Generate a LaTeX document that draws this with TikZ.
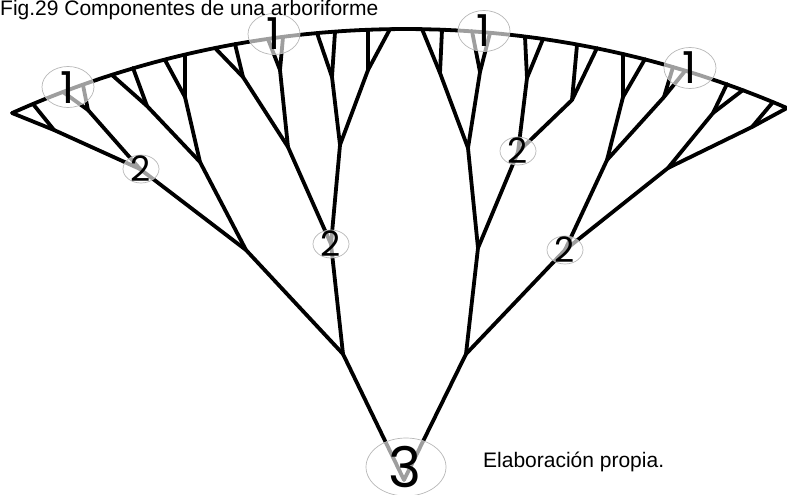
\documentclass[tikz,border=0pt]{standalone}
\usepackage{fontspec}
\setmainfont{Liberation Sans}
\newfontfamily\digitfont{Poppins}
\usetikzlibrary{shapes.geometric}
\begin{document}
\begin{tikzpicture}[x=1pt,y=-1pt,
  branch/.style={line width=3.8pt, line cap=round, line join=round, black},
  tag/.style={ellipse, fill=white, fill opacity=0.62, draw=black!28, draw opacity=1, line width=0.7pt, inner sep=0pt},
  onetag/.style={tag, minimum width=52pt, minimum height=41pt},
  twotag/.style={tag, minimum width=36pt, minimum height=28pt},
  threetag/.style={tag, minimum width=80pt, minimum height=58pt},
  onedigit/.style={inner sep=0pt, font=\digitfont\fontsize{44}{44}\selectfont},
  twodigit/.style={inner sep=0pt, font=\digitfont\fontsize{35}{35}\selectfont},
  threedigit/.style={inner sep=0pt, font=\digitfont\fontsize{56}{56}\selectfont},
  caption/.style={inner sep=0pt, anchor=base west, font=\fontsize{21}{25}\selectfont}]
\useasboundingbox (0,0) rectangle (787,495);

% leaves on the arc
\coordinate (l1) at (12,113);  \coordinate (l2) at (33,104);
\coordinate (l3) at (63,92);   \coordinate (l4) at (83,85);
\coordinate (l5) at (112,75);  \coordinate (l6) at (133,68);
\coordinate (l7) at (165,60);  \coordinate (l8) at (185,55);
\coordinate (l9) at (215,48);  \coordinate (l10) at (235,44);
\coordinate (l11) at (268,39); \coordinate (l12) at (283,37);
\coordinate (l13) at (317,33); \coordinate (l14) at (335,32);
\coordinate (l15) at (368,30); \coordinate (l16) at (390,29);
\coordinate (l17) at (422,29); \coordinate (l18) at (442,30);
\coordinate (l19) at (472,31); \coordinate (l20) at (490,33);
\coordinate (l21) at (525,37); \coordinate (l22) at (543,39);
\coordinate (l23) at (577,45); \coordinate (l24) at (597,48);
\coordinate (l25) at (623,54); \coordinate (l26) at (645,59);
\coordinate (l27) at (673,67); \coordinate (l28) at (685,71);
\coordinate (l29) at (727,84); \coordinate (l30) at (743,90);
\coordinate (l31) at (773,102);\coordinate (l32) at (787,108);
% first forks
\coordinate (A1) at (54,130);  \coordinate (A2) at (88,110);
\coordinate (B1) at (147,106); \coordinate (B2) at (185,97);
\coordinate (C1) at (243,77);  \coordinate (C2) at (280,70);
\coordinate (D1) at (332,77);  \coordinate (D2) at (368,70);
\coordinate (E1) at (440,73);  \coordinate (E2) at (480,72);
\coordinate (F1) at (527,78);  \coordinate (F2) at (572,100);
\coordinate (G1) at (623,97);  \coordinate (G2) at (664,97);
\coordinate (H1) at (713,113); \coordinate (H2) at (752,127);
% second forks
\coordinate (A) at (140,169);  \coordinate (B) at (200,162);
\coordinate (C) at (288,147);  \coordinate (D) at (340,145);
\coordinate (E) at (468,148);  \coordinate (F) at (518,152);
\coordinate (G) at (607,160);  \coordinate (H) at (668,168);
% third forks
\coordinate (LL) at (246,250); \coordinate (LR) at (331,244);
\coordinate (RL) at (478,248); \coordinate (RR) at (565,250);
% fourth forks and root
\coordinate (L) at (343,354);  \coordinate (R) at (466,354);
\coordinate (root) at (404,480);

% crown arc
\draw[branch] plot[domain=-24.12:23.38, samples=90]
  ({405.2+962.1*sin(\x)}, {991.1-962.1*cos(\x)});

% branches
\foreach \p/\c in {root/L, root/R, L/LL, L/LR, R/RL, R/RR,
  LL/A, LL/B, LR/C, LR/D, RL/E, RL/F, RR/G, RR/H,
  A/A1, A/A2, B/B1, B/B2, C/C1, C/C2, D/D1, D/D2,
  E/E1, E/E2, F/F1, F/F2, G/G1, G/G2, H/H1, H/H2,
  A1/l1, A1/l2, A2/l3, A2/l4, B1/l5, B1/l6, B2/l7, B2/l8,
  C1/l9, C1/l10, C2/l11, C2/l12, D1/l13, D1/l14, D2/l15, D2/l16,
  E1/l17, E1/l18, E2/l19, E2/l20, F1/l21, F1/l22, F2/l23, F2/l24,
  G1/l25, G1/l26, G2/l27, G2/l28, H1/l29, H1/l30, H2/l31, H2/l32}
  \draw[branch] (\p) -- (\c);

% level tags
\node[onetag] (t1a) at (68,87) {};
\node[onetag] (t1b) at (274,34) {};
\node[onetag] (t1c) at (484,31) {};
\node[onetag] (t1d) at (690,68) {};
\node[twotag] (t2a) at (141,169) {};
\node[twotag] (t2b) at (331,244) {};
\node[twotag] (t2c) at (518,151) {};
\node[twotag] (t2d) at (565,250) {};
\node[threetag] (t3) at (406,467) {};

\node[onedigit] (d1a) at (68,88) {1};
\node[onedigit] (d1b) at (t1b) {1};
\node[onedigit] (d1c) at (t1c) {1};
\node[onedigit] (d1d) at (t1d) {1};
\node[twodigit] (d2a) at (t2a) {2};
\node[twodigit] (d2b) at (t2b) {2};
\node[twodigit] (d2c) at (t2c) {2};
\node[twodigit] (d2d) at (t2d) {2};
\node[threedigit] (d3) at (405,467) {3};

% texts
\node[caption] (title) at (0,15.5) {Fig.29 Componentes de una arboriforme};
\node[caption] (source) at (483,467) {Elaboración propia.};
\end{tikzpicture}
\end{document}
